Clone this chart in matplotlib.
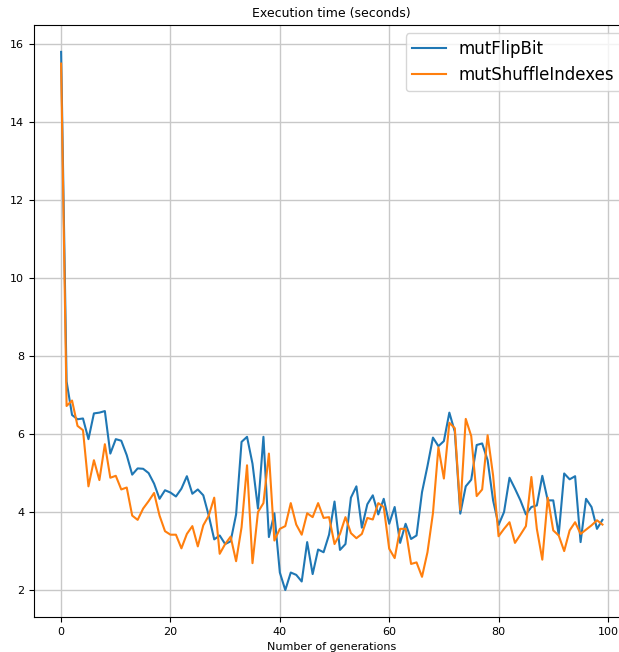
import numpy as np
import matplotlib
matplotlib.use("Agg")
import matplotlib.pyplot as plt

# execution time per generation
generations = np.arange(100)

flip_bit = [
    15.8, 7.35, 6.49, 6.38, 6.40, 5.87, 6.53, 6.55, 6.59, 5.50,
    5.87, 5.83, 5.46, 4.96, 5.12, 5.11, 5.00, 4.73, 4.34, 4.56,
    4.50, 4.40, 4.60, 4.92, 4.47, 4.58, 4.43, 3.91, 3.30, 3.40,
    3.18, 3.25, 3.94, 5.80, 5.93, 5.24, 4.09, 5.93, 3.36, 3.97,
    2.45, 2.00, 2.45, 2.39, 2.22, 3.23, 2.41, 3.04, 2.97, 3.42,
    4.27, 3.03, 3.18, 4.37, 4.66, 3.60, 4.20, 4.43, 3.94, 4.34,
    3.70, 4.13, 3.21, 3.70, 3.31, 3.40, 4.51, 5.18, 5.91, 5.69,
    5.82, 6.55, 6.06, 3.96, 4.66, 4.83, 5.72, 5.76, 5.33, 4.30,
    3.67, 4.00, 4.88, 4.60, 4.30, 3.94, 4.13, 4.17, 4.93, 4.30,
    4.30, 3.42, 4.99, 4.84, 4.92, 3.23, 4.34, 4.13, 3.57, 3.80,
]

shuffle_indexes = [
    15.5, 6.72, 6.86, 6.21, 6.10, 4.66, 5.33, 4.82, 5.74, 4.88,
    4.93, 4.58, 4.63, 3.91, 3.80, 4.09, 4.28, 4.49, 3.91, 3.51,
    3.42, 3.42, 3.07, 3.44, 3.64, 3.12, 3.66, 3.91, 4.37, 2.93,
    3.18, 3.37, 2.74, 3.61, 5.20, 2.69, 4.00, 4.23, 5.50, 3.27,
    3.57, 3.64, 4.23, 3.68, 3.42, 3.97, 3.87, 4.23, 3.85, 3.87,
    3.18, 3.44, 3.87, 3.46, 3.33, 3.44, 3.85, 3.81, 4.23, 4.13,
    3.06, 2.82, 3.57, 3.57, 2.67, 2.71, 2.34, 2.97, 3.97, 5.66,
    4.86, 6.29, 6.15, 4.06, 6.39, 5.95, 4.41, 4.58, 5.97, 4.94,
    3.38, 3.57, 3.74, 3.21, 3.42, 3.64, 4.90, 3.57, 2.78, 4.37,
    3.53, 3.40, 3.00, 3.53, 3.74, 3.44, 3.55, 3.66, 3.79, 3.68,
]

fig = plt.figure(figsize=(6.19, 6.52), dpi=100)
# axes run past the right edge, like the cropped original
ax = fig.add_axes([0.055, 0.0537, 0.962, 0.908])

ax.plot(generations, flip_bit, color="#1f77b4", lw=1.5, label="mutFlipBit")
ax.plot(generations, shuffle_indexes, color="#ff7f0e", lw=1.5, label="mutShuffleIndexes")

ax.set_title("Execution time (seconds)", fontsize=9)
ax.set_xlabel("Number of generations", fontsize=8)
ax.tick_params(labelsize=8)
ax.grid(True, color="#c8c8c8", lw=1)
ax.legend(loc="upper right", fontsize=12)

fig.savefig("out.png", dpi=100)
